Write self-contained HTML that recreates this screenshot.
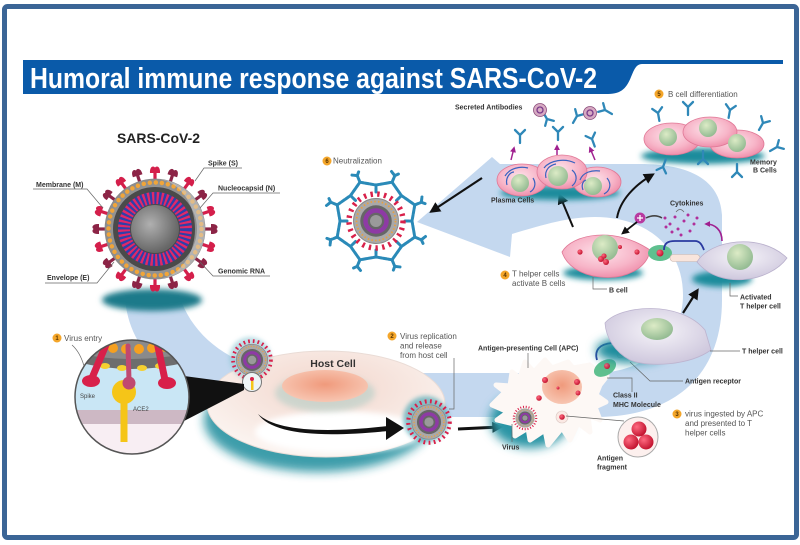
<!DOCTYPE html>
<html><head><meta charset="utf-8">
<style>
html,body{margin:0;padding:0;background:#fff;}
svg{display:block;}
text{font-family:"Liberation Sans",Arial,sans-serif;}
.lb{font-size:7px;font-weight:bold;fill:#333;}
.st{font-size:8px;fill:#555;}
.ld{fill:none;stroke:#666;stroke-width:0.7;}
.bn{font-size:6px;font-weight:bold;fill:#5a3500;text-anchor:middle;}
</style></head><body>
<svg width="800" height="545" viewBox="0 0 800 545" xmlns="http://www.w3.org/2000/svg">
<defs>
 <filter id="b2" x="-50%" y="-50%" width="200%" height="200%"><feGaussianBlur stdDeviation="2"/></filter>
 <filter id="b3" x="-50%" y="-50%" width="200%" height="200%"><feGaussianBlur stdDeviation="3"/></filter>
 <filter id="b5" x="-50%" y="-50%" width="200%" height="200%"><feGaussianBlur stdDeviation="5"/></filter>
 <marker id="ah" viewBox="0 0 10 10" refX="7" refY="5" markerWidth="11" markerHeight="11" markerUnits="userSpaceOnUse" orient="auto"><path d="M0,0 L10,5 L0,10 z" fill="#111"/></marker>
 <marker id="ahs" viewBox="0 0 10 10" refX="7" refY="5" markerWidth="8" markerHeight="8" markerUnits="userSpaceOnUse" orient="auto"><path d="M0,0 L10,5 L0,10 z" fill="#111"/></marker>
 <marker id="ahp" viewBox="0 0 10 10" refX="7" refY="5" markerWidth="6" markerHeight="6" markerUnits="userSpaceOnUse" orient="auto"><path d="M0,0 L10,5 L0,10 z" fill="#a0208f"/></marker>
 <radialGradient id="gPink" cx=".45" cy=".4" r=".65"><stop offset="0" stop-color="#fde2ea"/><stop offset=".6" stop-color="#f7b5c8"/><stop offset="1" stop-color="#ee88a6"/></radialGradient>
 <radialGradient id="gNuc" cx=".4" cy=".35" r=".7"><stop offset="0" stop-color="#dcebc6"/><stop offset="1" stop-color="#8fb88f"/></radialGradient>
 <radialGradient id="gLav" cx=".5" cy=".4" r=".65"><stop offset="0" stop-color="#f6f4f9"/><stop offset="1" stop-color="#cbc4db"/></radialGradient>
 <radialGradient id="gHost" cx=".5" cy=".35" r=".6"><stop offset="0" stop-color="#f2d6cc"/><stop offset="1" stop-color="#fbf3ef"/></radialGradient>
 <radialGradient id="gHN" cx=".5" cy=".45" r=".6"><stop offset="0" stop-color="#f09a7c"/><stop offset="1" stop-color="#f8cab7"/></radialGradient>
 <radialGradient id="gRed" cx=".35" cy=".35" r=".7"><stop offset="0" stop-color="#ff6a80"/><stop offset="1" stop-color="#c0102c"/></radialGradient>
 <radialGradient id="gShell" cx=".5" cy=".5" r=".5"><stop offset="0" stop-color="#b8b8b8"/><stop offset="1" stop-color="#8c8c8c"/></radialGradient>
 <radialGradient id="gCore" cx=".4" cy=".4" r=".6"><stop offset="0" stop-color="#b0b0b0"/><stop offset="1" stop-color="#666"/></radialGradient>
 <g id="spk"><rect x="-1.6" y="-57" width="3.2" height="9"/><path d="M-5,-56 C-5.5,-62 -2,-64 0,-61.5 C2,-64 5.5,-62 5,-56 Z"/></g>
 <g id="sv">
  <circle r="18" fill="none" stroke="#d8204a" stroke-width="3.6" stroke-dasharray="1.6 2.9"/>
  <circle r="15" fill="#a9a9a9" stroke="#888" stroke-width=".6"/>
  <circle r="13" fill="none" stroke="#e8a040" stroke-width="1.2" stroke-dasharray="1 1.5"/>
  <circle r="10.5" fill="#666"/>
  <circle r="7" fill="none" stroke="#8e3aa5" stroke-width="3"/>
  <circle r="4" fill="#9a9a9a"/>
 </g>
 <g id="yab" fill="none" stroke="#2f88b8" stroke-width="2.3" stroke-linecap="round"><path d="M0,0 L0,8 M0,0 L-5,-5 M0,0 L5,-5"/></g>
 <g id="nab" fill="none" stroke="#2a8ab8" stroke-width="3" stroke-linecap="round" stroke-dasharray="4 1.2">
  <path d="M0,-29 L0,-36 M-16.1,-38.8 L0,-36 L16.1,-38.8 M16.1,-38.8 L18.8,-45.3 M18.8,-45.3 L15.5,-49.5 M18.8,-45.3 L23.5,-47.5"/>
 </g>
</defs>

<rect width="800" height="545" fill="#fff"/>
<rect x="4.5" y="6.5" width="792" height="531" rx="3" fill="none" stroke="#3b6596" stroke-width="5"/>

<!-- title -->
<path d="M23,60 H783 V64 H642 C636,64 634,70 631,77 C627,87 622,94 608,94 H23 Z" fill="#0a5aa9"/>
<text x="30" y="88" font-size="29" font-weight="bold" fill="#fff" textLength="567" lengthAdjust="spacingAndGlyphs">Humoral immune response against SARS-CoV-2</text>

<!-- big band -->
<path d="M125,295 C126,340 160,385 225,405 C255,414 290,417 330,417 L595,417 C675,417 722,375 722,300 L722,215 C720,180 690,164 640,164 L500,164 L492,157 L417,222 L510,257 L512,234 C545,224 570,217 595,217 C650,217 683,250 683,295 C683,340 645,373 595,373 L300,373 C245,373 195,345 179,295 Z" fill="#c4d8ef"/>

<!-- big virus -->
<ellipse cx="152" cy="300" rx="50" ry="11" fill="#1b7a8a" filter="url(#b3)"/>
<g transform="translate(155,229)">
 <use href="#spk" fill="#d41f4b" transform="rotate(0)"/>
 <use href="#spk" fill="#8c2446" transform="rotate(18)"/>
 <use href="#spk" fill="#d41f4b" transform="rotate(36)"/>
 <use href="#spk" fill="#8c2446" transform="rotate(54)"/>
 <use href="#spk" fill="#d41f4b" transform="rotate(72)"/>
 <use href="#spk" fill="#8c2446" transform="rotate(90)"/>
 <use href="#spk" fill="#d41f4b" transform="rotate(108)"/>
 <use href="#spk" fill="#8c2446" transform="rotate(126)"/>
 <use href="#spk" fill="#d41f4b" transform="rotate(144)"/>
 <use href="#spk" fill="#8c2446" transform="rotate(162)"/>
 <use href="#spk" fill="#d41f4b" transform="rotate(180)"/>
 <use href="#spk" fill="#8c2446" transform="rotate(198)"/>
 <use href="#spk" fill="#d41f4b" transform="rotate(216)"/>
 <use href="#spk" fill="#8c2446" transform="rotate(234)"/>
 <use href="#spk" fill="#d41f4b" transform="rotate(252)"/>
 <use href="#spk" fill="#8c2446" transform="rotate(270)"/>
 <use href="#spk" fill="#d41f4b" transform="rotate(288)"/>
 <use href="#spk" fill="#8c2446" transform="rotate(306)"/>
 <use href="#spk" fill="#d41f4b" transform="rotate(324)"/>
 <use href="#spk" fill="#8c2446" transform="rotate(342)"/>
 <circle r="50" fill="url(#gShell)" stroke="#8a8a8a" stroke-width=".8"/>
 <circle r="46.5" fill="none" stroke="#f0a53a" stroke-width="4.5" stroke-dasharray="0 6.1" stroke-linecap="round"/>
 <circle r="42" fill="#4a4a4a"/>
 <circle r="31" fill="none" stroke="#2d3fae" stroke-width="12" stroke-dasharray="2.2 2.2"/>
 <circle r="31" fill="none" stroke="#e0286a" stroke-width="12" stroke-dasharray="2.2 2.2" stroke-dashoffset="2.2"/>
 <circle r="24" fill="url(#gCore)"/>
 <path d="M0,-50 A50,50 0 0 1 0,50 A40,50 0 0 0 0,-50 Z" fill="#d4d4d4" opacity=".5"/>
</g>
<text x="117" y="143" font-size="14" font-weight="bold" fill="#222" textLength="83" lengthAdjust="spacingAndGlyphs">SARS-CoV-2</text>
<path class="ld" d="M242,168 L204,168 L195,181"/>
<path class="ld" d="M33,189 L87,189 L103,208"/>
<path class="ld" d="M280,193 L213,193 L200,208"/>
<path class="ld" d="M270,276 L213,276 L200,262"/>
<path class="ld" d="M45,283 L97,283 L114,262"/>
<text class="lb" x="208" y="165.5">Spike (S)</text>
<text class="lb" x="36" y="187">Membrane (M)</text>
<text class="lb" x="218" y="190.5">Nucleocapsid (N)</text>
<text class="lb" x="218" y="273.5">Genomic RNA</text>
<text class="lb" x="47" y="280">Envelope (E)</text>

<!-- host cell -->
<ellipse cx="318" cy="420" rx="114" ry="52" fill="#1f8c9c" opacity=".85" filter="url(#b5)"/>
<ellipse cx="326" cy="404" rx="119" ry="53" fill="url(#gHost)" stroke="#eadcd6" stroke-width="1"/>
<ellipse cx="340" cy="432" rx="85" ry="21" fill="#fff" filter="url(#b3)"/>
<ellipse cx="325" cy="393" rx="50" ry="19" fill="#9fc9c2" opacity=".45" filter="url(#b3)"/>
<ellipse cx="325" cy="386" rx="43" ry="16" fill="url(#gHN)"/>
<text x="333" y="367" font-size="10.5" font-weight="bold" fill="#333" text-anchor="middle">Host Cell</text>
<path d="M258,414 C275,430 320,434 388,426 L388,431 C318,438 272,434 258,414 Z" fill="#111"/>
<polygon points="386,417 404,428 386,440" fill="#111"/>

<!-- virus on host cell + magnifier -->
<circle cx="250" cy="358" r="21" fill="#8fc8d4" opacity=".6" filter="url(#b2)"/>
<use href="#sv" transform="translate(252,360) scale(1.05)"/>
<circle cx="252" cy="382" r="9.5" fill="#eef4f6" stroke="#777" stroke-width="1"/>
<rect x="251" y="381" width="2.5" height="9" fill="#f5c518"/>
<circle cx="252" cy="379" r="2" fill="#d8204a"/>
<polygon points="184,376 244,384 244,390 184,421" fill="#111"/>
<clipPath id="mag"><circle cx="132" cy="397" r="57"/></clipPath>
<g clip-path="url(#mag)">
 <rect x="70" y="338" width="130" height="120" fill="#f8eef3"/>
 <rect x="70" y="360" width="130" height="52" fill="#c9e6f5"/>
 <rect x="70" y="410" width="130" height="14" fill="#cdb8c4"/>
 <path d="M70,336 L195,336 L195,360 Q132,378 70,360 Z" fill="#6d6d6d"/>
 <path d="M70,336 L195,336 L195,352 Q132,366 70,352 Z" fill="#8a8a8a"/>
 <g fill="#f5a020"><circle cx="100" cy="347" r="5"/><circle cx="113" cy="348" r="5"/><circle cx="126" cy="349" r="5"/><circle cx="139" cy="349" r="5"/><circle cx="152" cy="348" r="5"/><circle cx="165" cy="347" r="5"/></g>
 <g fill="#f5d030"><ellipse cx="105" cy="366" rx="5" ry="3"/><ellipse cx="122" cy="368" rx="5" ry="3"/><ellipse cx="142" cy="368" rx="5" ry="3"/><ellipse cx="160" cy="366" rx="5" ry="3"/></g>
 <circle cx="124" cy="392" r="12" fill="#f5c518"/>
 <rect x="120.5" y="398" width="7" height="44" fill="#f5c518"/>
 <path d="M108,340 L92,378" stroke="#d8204a" stroke-width="7" stroke-linecap="round"/>
 <ellipse cx="91" cy="381" rx="9" ry="6" fill="#d8204a"/>
 <path d="M157,342 L165,380" stroke="#d8204a" stroke-width="7" stroke-linecap="round"/>
 <ellipse cx="167" cy="383" rx="9" ry="6" fill="#d8204a"/>
 <path d="M128,346 L129,380" stroke="#c04870" stroke-width="5" stroke-linecap="round"/>
 <circle cx="129" cy="383" r="6.5" fill="#c04870"/>
 <text x="80" y="398" font-size="6" fill="#444">Spike</text>
 <text x="133" y="411" font-size="6" fill="#444">ACE2</text>
</g>
<circle cx="132" cy="397" r="57" fill="none" stroke="#555" stroke-width="1.5"/>
<path class="ld" d="M72,345 Q80,352 84,366"/>
<circle cx="57" cy="338" r="4.5" fill="#f4a62a"/><text class="bn" x="57" y="340.2">1</text>
<text class="st" x="64" y="341" font-size="7.5">Virus entry</text>

<!-- virus 2 -->
<circle cx="426" cy="419" r="23" fill="#3aa0b0" opacity=".6" filter="url(#b2)"/>
<use href="#sv" transform="translate(429,422) scale(1.15)"/>
<path class="ld" d="M449,409 L454,409 L454,358"/>
<circle cx="392" cy="336" r="4.5" fill="#f4a62a"/><text class="bn" x="392" y="338.2">2</text>
<text class="st" x="400" y="339">Virus replication</text>
<text class="st" x="400" y="348.5">and release</text>
<text class="st" x="400" y="358">from host cell</text>
<path d="M458,429 L500,427" stroke="#111" stroke-width="3" marker-end="url(#ah)"/>

<!-- APC -->
<ellipse cx="530" cy="420" rx="40" ry="28" fill="#2a95a5" filter="url(#b5)"/>
<path d="M505,392 L496,385 L510,386 L512,372 L520,378 L525,362 L534,372 L545,360 L552,368 L568,362 L573,368 L590,365 L598,372 L607,376 L600,385 L596,395 L606,402 L595,407 L600,420 L588,415 L590,432 L578,423 L570,440 L562,428 L548,445 L545,430 L530,440 L528,428 L515,436 L514,424 L497,420 L508,412 L492,405 Z" fill="#fdf8f5" stroke="#fdf8f5" stroke-width="5" stroke-linejoin="round"/>
<ellipse cx="562" cy="387" rx="20" ry="17" fill="url(#gHN)"/>
<g fill="url(#gRed)"><circle cx="545" cy="380" r="3"/><circle cx="577" cy="382" r="3"/><circle cx="539" cy="398" r="2.8"/><circle cx="558" cy="388" r="1.5"/><circle cx="578" cy="393" r="2.5"/></g>
<circle cx="562" cy="417" r="6" fill="#fbe9e4" stroke="#d9c6c0" stroke-width=".6"/>
<circle cx="562" cy="417" r="2.8" fill="url(#gRed)"/>
<use href="#sv" transform="translate(525,418) scale(.62)"/>
<ellipse cx="605" cy="368" rx="12" ry="7.5" transform="rotate(-30 605 368)" fill="#5fc08f"/>
<circle cx="607" cy="366" r="3" fill="url(#gRed)"/>
<rect x="616" y="349" width="14" height="7" rx="3.5" transform="rotate(-35 623 352)" fill="#f9e5dc" stroke="#c9b5ad" stroke-width=".6"/>
<path d="M597,360 C594,350 600,344 612,343 L622,343" fill="none" stroke="#2a3aa0" stroke-width="1.8"/>
<circle cx="638" cy="437" r="20" fill="#fdf0ee" stroke="#aaa" stroke-width="1"/>
<circle cx="631" cy="442" r="7.5" fill="url(#gRed)"/>
<circle cx="646" cy="442" r="7.5" fill="url(#gRed)"/>
<circle cx="639" cy="429" r="7.5" fill="url(#gRed)"/>
<path class="ld" d="M528,353 L528,368"/>
<path class="ld" d="M512,424 L512,442"/>
<path class="ld" d="M566,416 L624,421"/>
<path class="ld" d="M607,378 L632,378 L632,392"/>
<path class="ld" d="M630,362 L650,381 L683,381"/>
<text class="lb" x="478" y="350.5">Antigen-presenting Cell (APC)</text>
<text class="lb" x="502" y="449.5">Virus</text>
<text class="lb" x="597" y="460.5">Antigen</text>
<text class="lb" x="597" y="469.5">fragment</text>
<text class="lb" x="613" y="397.5">Class II</text>
<text class="lb" x="613" y="407">MHC Molecule</text>
<text class="lb" x="685" y="383.5">Antigen receptor</text>

<!-- T helper cell -->
<ellipse cx="632" cy="350" rx="36" ry="13" fill="#1f8c9c" filter="url(#b5)"/>
<path d="M605,323 C620,305 680,300 705,330 L711,350 C690,365 650,368 630,360 C615,352 606,338 605,323 Z" fill="url(#gLav)" stroke="#bdb4cf" stroke-width=".8"/>
<ellipse cx="657" cy="329" rx="16" ry="11" fill="url(#gNuc)"/>
<path class="ld" d="M710,351 L740,351"/>
<text class="lb" x="742" y="353.5">T helper cell</text>
<circle cx="677" cy="414" r="4.5" fill="#f4a62a"/><text class="bn" x="677" y="416.2">3</text>
<text class="st" x="685" y="416.5">virus ingested by APC</text>
<text class="st" x="685" y="426">and presented to T</text>
<text class="st" x="685" y="435.5">helper cells</text>
<path d="M683,313 L697,291" stroke="#111" stroke-width="2.2" marker-end="url(#ah)"/>

<!-- B cell, activation -->
<ellipse cx="603" cy="273" rx="40" ry="7" fill="#1f8c9c" filter="url(#b3)"/>
<path d="M562,252 C572,234 615,226 650,250 C648,268 625,280 600,277 C580,275 566,265 562,252 Z" fill="url(#gPink)" stroke="#e07896" stroke-width=".8"/>
<circle cx="605" cy="248" r="13" fill="url(#gNuc)"/>
<g fill="url(#gRed)"><circle cx="580" cy="252" r="2.6"/><circle cx="637" cy="252" r="2.6"/><circle cx="620" cy="247" r="2"/><circle cx="601" cy="259" r="3"/><circle cx="606" cy="262" r="3"/><circle cx="604" cy="256" r="2.6"/></g>
<ellipse cx="660" cy="253" rx="12" ry="8" fill="#5fc08f"/>
<circle cx="660" cy="253" r="3.5" fill="url(#gRed)"/>
<rect x="670" y="254.5" width="30" height="7" rx="3.5" fill="#f9e5dc" stroke="#c9b5ad" stroke-width=".6"/>
<path d="M664,250 C664,243 668,241 675,241 L695,241 C700,241 702,245 704,250" fill="none" stroke="#2a3aa0" stroke-width="1.8"/>
<ellipse cx="722" cy="279" rx="30" ry="8" fill="#1f8c9c" filter="url(#b3)"/>
<path d="M697,262 C710,240 760,232 787,258 C770,282 720,290 697,262 Z" fill="url(#gLav)" stroke="#b9b0cc" stroke-width=".8"/>
<circle cx="740" cy="257" r="13" fill="url(#gNuc)"/>
<path class="ld" d="M593,277 L593,289 L607,289"/>
<path class="ld" d="M730,283 L730,296 L738,296"/>
<text class="lb" x="609" y="292.5">B cell</text>
<text class="lb" x="740" y="299.5">Activated</text>
<text class="lb" x="740" y="308.5">T helper cell</text>
<circle cx="505" cy="275" r="4.5" fill="#f4a62a"/><text class="bn" x="505" y="277.2">4</text>
<text class="st" x="512" y="276.5">T helper cells</text>
<text class="st" x="512" y="286">activate B cells</text>

<!-- cytokines -->
<g fill="#b02f9a"><circle cx="665" cy="218" r="1.5"/><circle cx="670" cy="224" r="1.5"/><circle cx="675" cy="217" r="1.5"/><circle cx="678" cy="229" r="1.5"/><circle cx="684" cy="221" r="1.5"/><circle cx="688" cy="215" r="1.5"/><circle cx="690" cy="231" r="1.5"/><circle cx="694" cy="224" r="1.5"/><circle cx="697" cy="218" r="1.5"/><circle cx="672" cy="232" r="1.5"/><circle cx="681" cy="235" r="1.5"/><circle cx="666" cy="227" r="1.5"/></g>
<path class="ld" d="M676,212 Q680,207 684,212"/>
<text class="lb" x="670" y="205.5">Cytokines</text>
<path d="M646,218 C652,215 657,215 662,218" fill="none" stroke="#444" stroke-width="1.5"/>
<circle cx="640" cy="218" r="5.5" fill="#b83aa0"/>
<path d="M637,218 H643 M640,215 V221" stroke="#fff" stroke-width="1.3"/>
<path d="M722,241 C722,230 715,224 706,224" fill="none" stroke="#a0208f" stroke-width="1.6" marker-end="url(#ahp)"/>
<path d="M637,222 L623,233" stroke="#111" stroke-width="1.8" marker-end="url(#ahs)"/>
<path d="M573,227 L560,196" stroke="#111" stroke-width="2" marker-end="url(#ah)"/>
<path d="M617,218 C620,200 635,185 652,175" fill="none" stroke="#111" stroke-width="2" marker-end="url(#ah)"/>

<!-- plasma cells -->
<ellipse cx="560" cy="193" rx="60" ry="7" fill="#1f8c9c" filter="url(#b3)"/>
<ellipse cx="522" cy="180" rx="25" ry="16" fill="url(#gPink)" stroke="#e07896" stroke-width=".8"/>
<ellipse cx="597" cy="182" rx="24" ry="15" fill="url(#gPink)" stroke="#e07896" stroke-width=".8"/>
<ellipse cx="562" cy="172" rx="25" ry="17" fill="url(#gPink)" stroke="#e07896" stroke-width=".8"/>
<g fill="none" stroke="#3b63c0" stroke-width="1.2">
 <path d="M505,176 C510,168 520,166 528,168 M507,185 C505,178 510,172 514,172 M533,178 C537,184 534,190 530,192"/>
 <path d="M544,168 C550,160 565,158 575,163 M546,178 C544,170 550,165 556,164 M572,170 C578,175 577,182 572,186"/>
 <path d="M580,180 C583,172 592,170 600,171 M607,178 C612,184 610,191 604,194 M583,190 C581,185 583,181 586,180"/>
</g>
<circle cx="520" cy="183" r="9" fill="url(#gNuc)"/>
<circle cx="558" cy="176" r="10" fill="url(#gNuc)"/>
<circle cx="593" cy="186" r="9" fill="url(#gNuc)"/>
<text class="lb" x="491" y="202.5" font-size="7.3">Plasma Cells</text>
<path d="M511,160 L514,148" stroke="#a0208f" stroke-width="1.5" marker-end="url(#ahp)"/>
<path d="M557,155 L557,146" stroke="#a0208f" stroke-width="1.5" marker-end="url(#ahp)"/>
<path d="M595,160 L590,148" stroke="#a0208f" stroke-width="1.5" marker-end="url(#ahp)"/>
<use href="#yab" transform="translate(520,135)"/>
<use href="#yab" transform="translate(558,132)"/>
<use href="#yab" transform="translate(592,139) rotate(-20)"/>
<use href="#yab" transform="translate(547,119) rotate(150)"/>
<use href="#yab" transform="translate(577,116) rotate(30)"/>
<use href="#yab" transform="translate(605,110) rotate(-60)"/>
<circle cx="540" cy="110" r="6.5" fill="#d7aac2" stroke="#8a4a7a" stroke-width=".8"/>
<circle cx="540" cy="110" r="3" fill="none" stroke="#7a3a8a" stroke-width="1.3"/>
<circle cx="590" cy="113" r="6.5" fill="#d7aac2" stroke="#8a4a7a" stroke-width=".8"/>
<circle cx="590" cy="113" r="3" fill="none" stroke="#7a3a8a" stroke-width="1.3"/>
<text class="lb" x="455" y="109.5">Secreted Antibodies</text>

<!-- memory B cells -->
<ellipse cx="703" cy="156" rx="62" ry="8" fill="#1f8c9c" filter="url(#b3)"/>
<ellipse cx="672" cy="139" rx="28" ry="16" fill="url(#gPink)" stroke="#e07896" stroke-width=".8"/>
<ellipse cx="737" cy="144" rx="27" ry="14" fill="url(#gPink)" stroke="#e07896" stroke-width=".8"/>
<ellipse cx="710" cy="132" rx="27" ry="15" fill="url(#gPink)" stroke="#e07896" stroke-width=".8"/>
<circle cx="668" cy="137" r="9" fill="url(#gNuc)"/>
<circle cx="737" cy="143" r="9" fill="url(#gNuc)"/>
<circle cx="708" cy="128" r="9" fill="url(#gNuc)"/>
<use href="#yab" transform="translate(658,113) rotate(-10)"/>
<use href="#yab" transform="translate(688,107)"/>
<use href="#yab" transform="translate(730,110) rotate(10)"/>
<use href="#yab" transform="translate(763,123) rotate(30)"/>
<use href="#yab" transform="translate(777,147) rotate(60)"/>
<use href="#yab" transform="translate(737,172) rotate(180)"/>
<use href="#yab" transform="translate(703,159) rotate(180)"/>
<use href="#yab" transform="translate(663,167) rotate(200)"/>
<text class="lb" x="750" y="164.5">Memory</text>
<text class="lb" x="753" y="172.5">B Cells</text>
<circle cx="659" cy="94" r="4.5" fill="#f4a62a"/><text class="bn" x="659" y="96.2">5</text>
<text class="st" x="668" y="97">B cell differentiation</text>

<!-- neutralization -->
<path d="M482,178 L432,211" stroke="#111" stroke-width="2.2" marker-end="url(#ah)"/>
<g transform="translate(376,221)">
 <use href="#nab" transform="rotate(0)"/>
 <use href="#nab" transform="rotate(45)"/>
 <use href="#nab" transform="rotate(90)"/>
 <use href="#nab" transform="rotate(135)"/>
 <use href="#nab" transform="rotate(180)"/>
 <use href="#nab" transform="rotate(225)"/>
 <use href="#nab" transform="rotate(270)"/>
 <use href="#nab" transform="rotate(315)"/>
</g>
<use href="#sv" transform="translate(376,221) scale(1.5)"/>
<circle cx="327" cy="161" r="4.5" fill="#f4a62a"/><text class="bn" x="327" y="163.2">6</text>
<text class="st" x="333" y="163.5">Neutralization</text>
</svg>
</body></html>
